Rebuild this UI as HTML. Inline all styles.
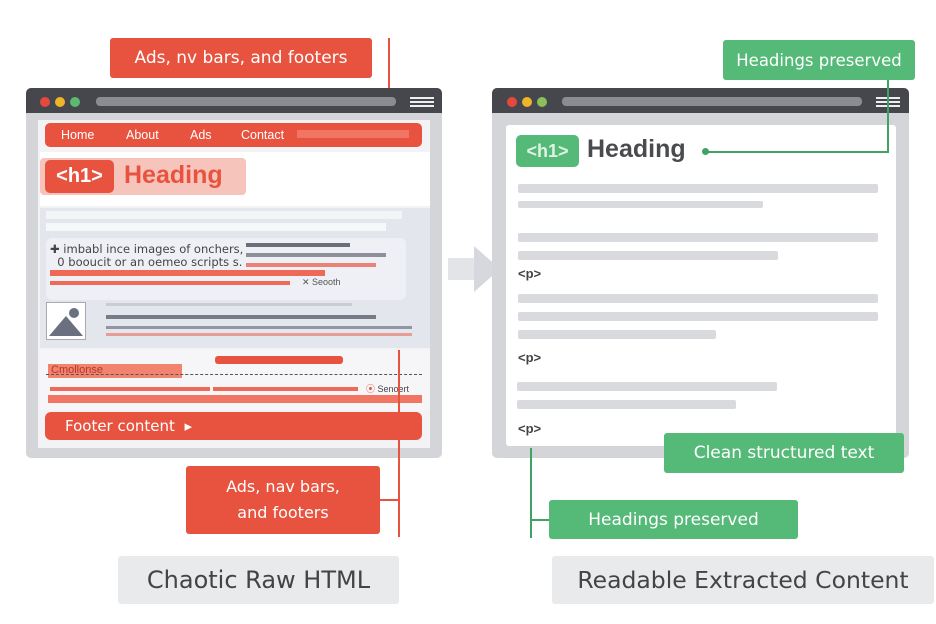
<!DOCTYPE html>
<html><head><style>
body{margin:0;width:936px;height:624px;background:#fff;position:relative;overflow:hidden;font-family:"Liberation Sans","DejaVu Sans",sans-serif}
div{position:absolute;box-sizing:border-box}
.red{background:#e8533f;color:#fff}
.grn{background:#55b978;color:#fff}
.lab{display:flex;align-items:center;justify-content:center;font-size:18px;border-radius:3px;text-align:center;font-family:"DejaVu Sans",sans-serif}
.gl{background:#d9dadd;height:9px;border-radius:2px}
.p{font-weight:bold;color:#444;font-size:13px}
.dot{width:10px;height:10px;border-radius:50%;top:8px}
</style></head><body>

<div class="red lab" style="left:110px;top:38px;width:262px;height:40px;font-size:17px">Ads, nv bars, and footers</div>
<div style="left:388px;top:38px;width:2px;height:92px;background:#e8533f"></div>

<div style="left:26px;top:88px;width:416px;height:370px;background:#d4d5d8;border-radius:5px"></div>
<div style="left:26px;top:88px;width:416px;height:25px;background:#45474c;border-radius:5px 5px 0 0"></div>
<div class="dot" style="left:40px;top:97px;background:#e6493b"></div>
<div class="dot" style="left:55px;top:97px;background:#f0b429"></div>
<div class="dot" style="left:70px;top:97px;background:#5bba6f"></div>
<div style="left:96px;top:97px;width:300px;height:9px;background:#8a8c90;border-radius:4px"></div>
<div style="left:410px;top:97px;width:24px;height:10px;border-top:2px solid #eee;border-bottom:2px solid #eee"></div>
<div style="left:410px;top:101px;width:24px;height:2px;background:#eee"></div>
<div style="left:38px;top:120px;width:392px;height:328px;background:#f3f3f6"></div>

<div class="red" style="left:45px;top:123px;width:377px;height:24px;border-radius:5px;font-size:12.5px">
<span style="position:absolute;left:16px;top:5px">Home</span>
<span style="position:absolute;left:81px;top:5px">About</span>
<span style="position:absolute;left:145px;top:5px">Ads</span>
<span style="position:absolute;left:196px;top:5px">Contact</span>
<span style="position:absolute;left:252px;top:7px;width:112px;height:8px;background:#f07563"></span>
</div>
<div style="left:40px;top:152px;width:390px;height:54px;background:#fff"></div>
<div style="left:40px;top:158px;width:206px;height:37px;background:#f7c4bb;border-radius:4px"></div>
<div class="red" style="left:45px;top:160px;width:69px;height:33px;border-radius:5px;font-size:20px;font-weight:bold;text-align:center;line-height:33px">&lt;h1&gt;</div>
<div style="left:124px;top:161px;font-size:25px;font-weight:bold;color:#e8533f">Heading</div>

<div style="left:40px;top:208px;width:390px;height:140px;background:#e4e6ee"></div>
<div style="left:46px;top:211px;width:356px;height:8px;background:#f3f4f8"></div>
<div style="left:46px;top:223px;width:340px;height:8px;background:#f6f7fa"></div>
<div style="left:46px;top:238px;width:360px;height:62px;background:#eef0f5;border-radius:6px"></div>
<div style="left:50px;top:243px;font-size:11.5px;color:#444;line-height:13px;font-family:'DejaVu Sans',sans-serif">✚ imbabl ince images of onchers,<br>&nbsp;&nbsp;0 booucit or an oemeo scripts s.</div>
<div style="left:246px;top:243px;width:104px;height:4px;background:#6b6f7a"></div>
<div style="left:246px;top:253px;width:140px;height:4px;background:#8d909a"></div>
<div style="left:246px;top:263px;width:130px;height:4px;background:#e8533f;opacity:.7"></div>
<div style="left:50px;top:270px;width:275px;height:6px;background:#ee6a56"></div>
<div style="left:50px;top:281px;width:240px;height:4px;background:#ee6a56"></div>
<div style="left:302px;top:277px;font-size:9px;color:#555">✕ Seooth</div>
<div style="left:46px;top:302px;width:40px;height:38px;background:#fff;border:1px solid #aaa"></div>
<div style="left:49px;top:316px;width:0;height:0;border-left:17px solid transparent;border-right:17px solid transparent;border-bottom:20px solid #6b7080"></div>
<div style="left:69px;top:308px;width:10px;height:10px;border-radius:50%;background:#6b7080"></div>
<div style="left:106px;top:303px;width:246px;height:3px;background:#c9ccd4"></div>
<div style="left:106px;top:315px;width:270px;height:4px;background:#777b88"></div>
<div style="left:106px;top:326px;width:306px;height:3px;background:#9296a2"></div>
<div style="left:106px;top:333px;width:306px;height:3px;background:#e8533f;opacity:.5"></div>
<div style="left:40px;top:350px;width:390px;height:60px;background:#f6f6f8"></div>
<div style="left:215px;top:356px;width:128px;height:8px;background:#e8533f;border-radius:3px"></div>
<div style="left:48px;top:364px;width:134px;height:14px;background:#f2836f;font-size:11px;color:#b03a2a;padding-left:3px">Cmollonse</div>
<div style="left:46px;top:374px;width:376px;border-top:1px dashed #555"></div>
<div style="left:50px;top:387px;width:160px;height:4px;background:#ee6a56"></div>
<div style="left:213px;top:387px;width:145px;height:4px;background:#ee6a56"></div>
<div style="left:366px;top:382px;font-size:9px;color:#444"><span style="color:#e8533f">⦿</span> Senoert</div>
<div style="left:48px;top:395px;width:374px;height:8px;background:#f07563"></div>
<div class="red" style="left:45px;top:412px;width:377px;height:28px;border-radius:6px;font-size:15px;font-family:'DejaVu Sans',sans-serif"><span style="position:absolute;left:20px;top:5px">Footer content&nbsp;&nbsp;▸</span></div>
<div style="left:398px;top:350px;width:2px;height:187px;background:#e8533f"></div>
<div style="left:380px;top:499px;width:20px;height:2px;background:#e8533f"></div>
<div class="red lab" style="left:186px;top:466px;width:194px;height:68px;font-size:16px;line-height:26px">Ads, nav bars,<br>and footers</div>

<div style="left:448px;top:258px;width:26px;height:22px;background:#e3e4e8"></div>
<div style="left:474px;top:246px;width:0;height:0;border-top:23px solid transparent;border-bottom:23px solid transparent;border-left:26px solid #d6d8de"></div>

<div class="grn lab" style="left:723px;top:40px;width:192px;height:40px;font-size:16.5px">Headings preserved</div>
<div style="left:492px;top:88px;width:417px;height:370px;background:#d4d5d8;border-radius:5px"></div>
<div style="left:492px;top:88px;width:417px;height:25px;background:#45474c;border-radius:5px 5px 0 0"></div>
<div class="dot" style="left:507px;top:97px;background:#e6493b"></div>
<div class="dot" style="left:522px;top:97px;background:#f0b429"></div>
<div class="dot" style="left:537px;top:97px;background:#8bbf5a"></div>
<div style="left:562px;top:97px;width:300px;height:9px;background:#8a8c90;border-radius:4px"></div>
<div style="left:876px;top:97px;width:24px;height:10px;border-top:2px solid #eee;border-bottom:2px solid #eee"></div>
<div style="left:876px;top:101px;width:24px;height:2px;background:#eee"></div>
<div style="left:506px;top:125px;width:390px;height:321px;background:#fff;border-radius:3px"></div>
<div style="left:887px;top:80px;width:2px;height:73px;background:#3fa363"></div>
<div style="left:705px;top:151px;width:184px;height:2px;background:#3fa363"></div>
<div style="left:702px;top:148px;width:7px;height:7px;border-radius:50%;background:#3fa363"></div>
<div class="grn" style="left:516px;top:135px;width:63px;height:32px;border-radius:5px;font-size:18px;font-weight:bold;text-align:center;line-height:32px;color:#dff3e5">&lt;h1&gt;</div>
<div style="left:587px;top:135px;font-size:25px;font-weight:bold;color:#4a4b4f">Heading</div>
<div class="gl" style="left:518px;top:184px;width:360px"></div>
<div class="gl" style="left:518px;top:201px;width:245px;height:7px"></div>
<div class="gl" style="left:518px;top:233px;width:360px"></div>
<div class="gl" style="left:518px;top:251px;width:260px"></div>
<div class="p" style="left:518px;top:266px">&lt;p&gt;</div>
<div class="gl" style="left:518px;top:294px;width:360px"></div>
<div class="gl" style="left:518px;top:312px;width:360px"></div>
<div class="gl" style="left:518px;top:330px;width:198px"></div>
<div class="p" style="left:518px;top:350px">&lt;p&gt;</div>
<div class="gl" style="left:517px;top:382px;width:260px"></div>
<div class="gl" style="left:517px;top:400px;width:219px"></div>
<div class="p" style="left:518px;top:421px">&lt;p&gt;</div>
<div class="grn lab" style="left:664px;top:433px;width:240px;height:40px;font-size:17px">Clean structured text</div>
<div style="left:530px;top:448px;width:2px;height:90px;background:#3fa363"></div>
<div style="left:530px;top:519px;width:20px;height:2px;background:#3fa363"></div>
<div class="grn lab" style="left:549px;top:500px;width:249px;height:39px;font-size:17px">Headings preserved</div>

<div class="lab" style="left:118px;top:556px;width:281px;height:48px;background:#e9eaec;color:#444;font-size:24px">Chaotic Raw HTML</div>
<div class="lab" style="left:552px;top:556px;width:382px;height:48px;background:#e9eaec;color:#444;font-size:23.5px">Readable Extracted Content</div>
</body></html>
